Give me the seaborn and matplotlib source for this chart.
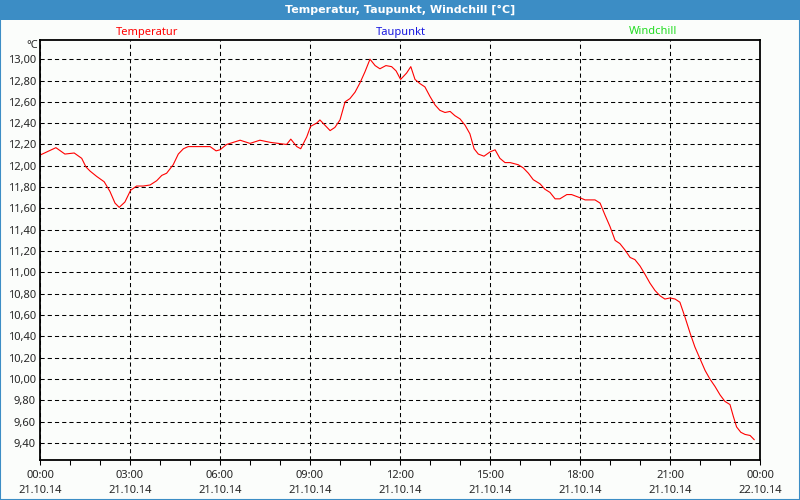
import numpy as np
import pandas as pd
import matplotlib
matplotlib.use("Agg")
import matplotlib.pyplot as plt
import matplotlib.dates as mdates
from matplotlib.patches import Rectangle
from matplotlib.ticker import FixedLocator, FuncFormatter
import seaborn as sns

# hours after 21.10.14 00:00
hours = [0, 0.53, 0.83, 1.14, 1.39, 1.53, 1.67, 1.89, 2.14, 2.33, 2.5, 2.64, 2.83,
         3.02, 3.22, 3.44, 3.67, 3.89, 4.06, 4.22, 4.44, 4.61, 4.78, 4.94, 5.44,
         5.67, 5.87, 6.0, 6.22, 6.67, 7.0, 7.33, 7.67, 8.22, 8.36, 8.56, 8.69,
         8.89, 9.02, 9.22, 9.33, 9.5, 9.67, 9.83, 10.0, 10.17, 10.33, 10.5, 10.67,
         10.83, 11.0, 11.17, 11.33, 11.53, 11.72, 11.87, 12.02, 12.22, 12.36, 12.5,
         12.67, 12.83, 13.0, 13.17, 13.33, 13.5, 13.67, 13.83, 14.0, 14.17, 14.33,
         14.47, 14.61, 14.8, 15.0, 15.17, 15.33, 15.5, 15.67, 15.94, 16.11, 16.28,
         16.44, 16.67, 16.83, 17.0, 17.17, 17.33, 17.56, 17.72, 18.0, 18.17, 18.5,
         18.67, 18.83, 19.0, 19.17, 19.33, 19.5, 19.67, 19.83, 20.0, 20.17, 20.33,
         20.5, 20.67, 20.83, 21.0, 21.17, 21.33, 21.5, 21.67, 21.83, 22.0, 22.17,
         22.33, 22.5, 22.67, 22.83, 23.0, 23.11, 23.22, 23.36, 23.5, 23.67, 23.81]

temperatur = [12.10, 12.17, 12.11, 12.12, 12.07, 11.99, 11.95, 11.90, 11.85, 11.76,
              11.65, 11.61, 11.66, 11.77, 11.81, 11.81, 11.82, 11.86, 11.91, 11.93,
              12.01, 12.11, 12.16, 12.18, 12.18, 12.18, 12.14, 12.15, 12.20, 12.24,
              12.21, 12.24, 12.22, 12.20, 12.25, 12.18, 12.16, 12.27, 12.37, 12.40,
              12.43, 12.38, 12.33, 12.36, 12.43, 12.60, 12.63, 12.69, 12.78, 12.88,
              13.00, 12.94, 12.91, 12.94, 12.93, 12.89, 12.81, 12.87, 12.93, 12.81,
              12.77, 12.74, 12.65, 12.57, 12.52, 12.50, 12.51, 12.47, 12.44, 12.38,
              12.30, 12.16, 12.11, 12.09, 12.13, 12.15, 12.07, 12.03, 12.03, 12.01,
              11.98, 11.93, 11.87, 11.83, 11.78, 11.75, 11.69, 11.69, 11.73, 11.73,
              11.70, 11.68, 11.68, 11.65, 11.54, 11.43, 11.30, 11.27, 11.21, 11.14,
              11.12, 11.06, 10.98, 10.90, 10.83, 10.78, 10.75, 10.76, 10.75, 10.72,
              10.58, 10.43, 10.30, 10.19, 10.08, 10.00, 9.93, 9.85, 9.79, 9.76,
              9.65, 9.55, 9.50, 9.48, 9.47, 9.43]

y_ticks = [9.4, 9.6, 9.8, 10.0, 10.2, 10.4, 10.6, 10.8, 11.0, 11.2, 11.4, 11.6,
           11.8, 12.0, 12.2, 12.4, 12.6, 12.8, 13.0]
legend_names = ["Temperatur", "Taupunkt", "Windchill"]
legend_colors = ["#ff0000", "#1818e0", "#22dd22"]

sns.set_style("white")
plt.rcParams["font.family"] = ["Noto Sans", "DejaVu Sans"]
plt.rcParams["lines.scale_dashes"] = False

start = pd.Timestamp("2014-10-21 00:00")
df = pd.DataFrame({
    "zeit": start + pd.to_timedelta(hours, unit="h"),
    "temperatur": temperatur,
})

bg = "#fbfdfb"
fig = plt.figure(figsize=(8, 5), dpi=100, facecolor=bg)
ax = fig.add_axes([0.05, 0.08, 0.90, 0.84])
ax.set_facecolor(bg)

sns.lineplot(data=df, x="zeit", y="temperatur", color="#ff0000", linewidth=0.8, ax=ax)

ax.set_xlim(start, start + pd.Timedelta(hours=24))
ax.set_ylim(9.24, 13.18)

ax.xaxis.set_major_locator(mdates.HourLocator(byhour=range(0, 24, 3)))
ax.xaxis.set_minor_locator(mdates.HourLocator())
ax.xaxis.set_major_formatter(mdates.DateFormatter("%H:%M\n%d.%m.%y"))
ax.yaxis.set_major_locator(FixedLocator(y_ticks))
ax.yaxis.set_major_formatter(FuncFormatter(lambda v, p: f"{v:.2f}".replace(".", ",")))

ax.grid(True, which="major", color="black", linewidth=0.75, linestyle=(0, (3, 2.2)))
ax.tick_params(axis="x", which="both", direction="out", length=3.5, width=0.75,
               color="black", labelsize=8, pad=4, bottom=True)
ax.tick_params(axis="y", length=0, labelsize=8, pad=3)
for lbl in ax.get_xticklabels():
    lbl.set_linespacing(1.45)
for s in ax.spines.values():
    s.set_color("black")
    s.set_linewidth(1.3)
ax.set_xlabel("")
ax.set_ylabel("")

# title bar and frame
fig.patches.append(Rectangle((0, 0.96), 1, 0.04, transform=fig.transFigure,
                             facecolor="#3c8dc5", edgecolor="none", zorder=0))
fig.patches.append(Rectangle((0, 0), 1, 1, transform=fig.transFigure, fill=False,
                             edgecolor="#3c8dc5", linewidth=1.5, zorder=0))
fig.text(0.5, 0.980, "Temperatur, Taupunkt, Windchill [°C]", color="white",
         fontsize=8, fontweight="bold", family="DejaVu Sans",
         ha="center", va="center")

for name, col, xpos in zip(legend_names, legend_colors, [147, 401, 653]):
    fig.text(xpos / 800, 1 - 32 / 500, name, color=col, fontsize=8,
             ha="center", va="center")
fig.text(32 / 800, 1 - 45 / 500, "°C", fontsize=8, ha="center", va="center")

fig.savefig("out.png", dpi=100, facecolor=bg)
